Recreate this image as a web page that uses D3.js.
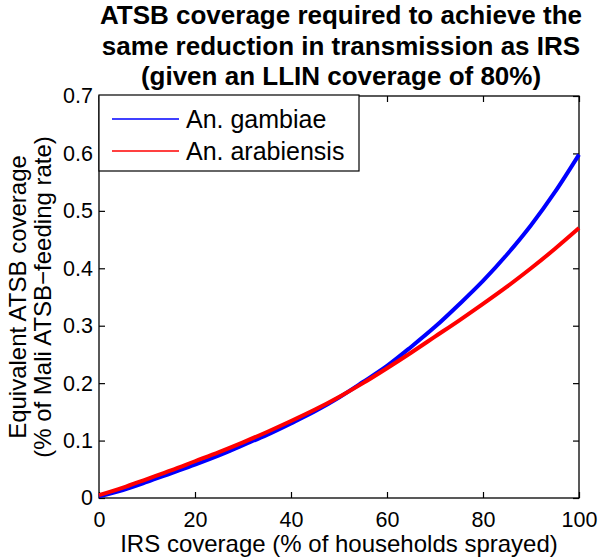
<!DOCTYPE html>
<html><head><meta charset="utf-8">
<script src="https://cdn.jsdelivr.net/npm/d3@7"></script>
<style>body{margin:0;background:#fff;} svg{display:block;}</style>
</head><body>
<svg id="c" width="600" height="560"></svg>
<script>
const irs = [0,5,10,15,20,25,30,35,40,45,50,55,60,65,70,75,80,85,90,95,100];
const gambiae = [0.003,0.014,0.028,0.043,0.058,0.074,0.092,0.11,0.13,0.151,0.175,0.202,0.23,0.263,0.298,0.337,0.378,0.424,0.475,0.533,0.598];
const arabiensis = [0.005,0.018,0.033,0.048,0.064,0.08,0.097,0.115,0.134,0.154,0.176,0.2,0.226,0.253,0.281,0.309,0.338,0.368,0.4,0.434,0.47];
const xTicks = [0,20,40,60,80,100];
const yTicks = [0,0.1,0.2,0.3,0.4,0.5,0.6,0.7];
const seriesNames = ["An. gambiae","An. arabiensis"];
const colors = ["#0000ff","#ff0000"];
const titleLines = ["ATSB coverage required to achieve the","same reduction in transmission as IRS","(given an LLIN coverage of 80%)"];

const svg = d3.select("#c");
const L=99,R=579,T=96,B=498;
const x = d3.scaleLinear().domain([0,100]).range([L,R]);
const y = d3.scaleLinear().domain([0,0.7]).range([B,T]);
const font = "Arial, 'Liberation Sans', sans-serif";

svg.append("rect").attr("x",L).attr("y",T).attr("width",R-L).attr("height",B-T)
  .attr("fill","none").attr("stroke","#000").attr("stroke-width",1.3);

const xa = svg.append("g").attr("transform",`translate(0,${B})`)
  .call(d3.axisBottom(x).tickValues(xTicks).tickSize(-6).tickFormat(d3.format("d")));
const xt = svg.append("g").attr("transform",`translate(0,${T})`)
  .call(d3.axisTop(x).tickValues(xTicks).tickSize(-6).tickFormat(""));
const ya = svg.append("g").attr("transform",`translate(${L},0)`)
  .call(d3.axisLeft(y).tickValues(yTicks).tickSize(-6).tickPadding(6).tickFormat(d=>d===0?"0":d3.format(".1f")(d)));
const yr = svg.append("g").attr("transform",`translate(${R},0)`)
  .call(d3.axisRight(y).tickValues(yTicks).tickSize(-6).tickFormat(""));
[xa,xt,ya,yr].forEach(g=>{
  g.select(".domain").remove();
  g.selectAll("line").attr("stroke","#000").attr("stroke-width",1.2);
  g.selectAll("text").attr("font-family",font).attr("font-size",21.5).attr("fill","#000");
});
xa.selectAll("text").attr("y",29).attr("dy",0);

const line = d3.line().x((d,i)=>x(irs[i])).y(d=>y(d)).curve(d3.curveMonotoneX);
[gambiae,arabiensis].forEach((s,k)=>{
  svg.append("path").datum(s).attr("d",line).attr("fill","none")
    .attr("stroke",colors[k]).attr("stroke-width",4).attr("stroke-linejoin","round");
});

const lg = svg.append("g");
lg.append("rect").attr("x",L).attr("y",T-1).attr("width",260).attr("height",76)
  .attr("fill","#fff").attr("stroke","#000").attr("stroke-width",1.2);
seriesNames.forEach((n,i)=>{
  const yy = 119 + i*32;
  lg.append("line").attr("x1",112).attr("x2",179).attr("y1",yy).attr("y2",yy)
    .attr("stroke",colors[i]).attr("stroke-width",1.5);
  lg.append("text").attr("x",186).attr("y",yy).attr("dy","0.35em")
    .attr("font-family",font).attr("font-size",25).text(n);
});

titleLines.forEach((t,i)=>{
  svg.append("text").attr("x",341).attr("y",24+i*30.5).attr("text-anchor","middle")
    .attr("font-family",font).attr("font-weight","bold").attr("font-size",26).text(t);
});

svg.append("text").attr("x",339).attr("y",552).attr("text-anchor","middle")
  .attr("font-family",font).attr("font-size",24).text("IRS coverage (% of households sprayed)");

const yl = svg.append("text").attr("transform",`translate(0,${(T+B)/2}) rotate(-90)`)
  .attr("text-anchor","middle").attr("font-family",font).attr("font-size",24);
yl.append("tspan").attr("x",0).attr("y",26).text("Equivalent ATSB coverage");
yl.append("tspan").attr("x",0).attr("y",51).text("(% of Mali ATSB\u2212feeding rate)");
</script>
</body></html>
